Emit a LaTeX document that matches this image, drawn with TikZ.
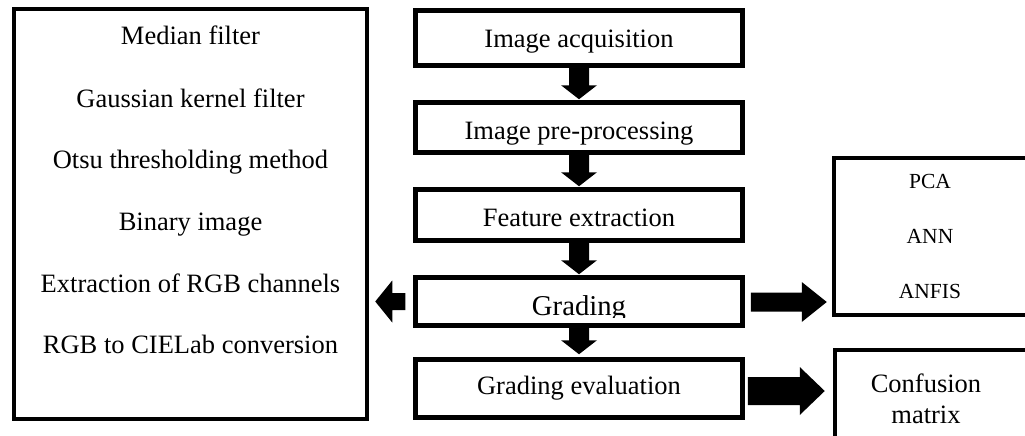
\documentclass[tikz,border=0pt]{standalone}
\usepackage{fontspec}
\setmainfont{Liberation Serif}
\usetikzlibrary{calc}
\newcommand\blkdown[3]{% from, to, tip gap
  \fill ($(#1.south)+(-10,0)$) -- ($(#2.north)+(-10,-14-#3)$) -- ($(#2.north)+(-18,-14-#3)$)
   -- ($(#2.north)+(0,-#3)$) -- ($(#2.north)+(18,-14-#3)$) -- ($(#2.north)+(10,-14-#3)$)
   -- ($(#1.south)+(10,0)$) -- cycle;}
\begin{document}
\begin{tikzpicture}[x=1pt,y=-1pt,
  box/.style={draw,line width=4.5pt,inner sep=0pt},
  txt/.style={inner sep=0pt,anchor=base,font=\fontsize{26.5}{30}\selectfont},
  smalltxt/.style={inner sep=0pt,anchor=base,font=\fontsize{21.5}{25}\selectfont},
  gradetxt/.style={inner sep=0pt,anchor=base,font=\fontsize{28.7}{32}\selectfont}]
\useasboundingbox (0,0) rectangle (1025,436);
\fill[white] (0,0) rectangle (1025,436);
\clip (0,0) rectangle (1025,436);
% left box
\node[box,minimum width=353pt,minimum height=410pt] (L) at (190.5,214) {};
\node[txt] (m1) at (190.5,45) {Median filter};
\node[txt] (m2) at (190.5,107) {Gaussian kernel filter};
\node[txt] (m3) at (190.5,168) {Otsu thresholding method};
\node[txt] (m4) at (190.5,230) {Binary image};
\node[txt] (m5) at (190.5,292) {Extraction of RGB channels};
\node[txt] (m6) at (190.5,353) {RGB to CIELab conversion};
% centre boxes
\node[box,minimum width=327pt,minimum height=55pt] (b1) at (579,38) {};
\node[box,minimum width=327pt,minimum height=50pt] (b2) at (579,127.5) {};
\node[box,minimum width=327pt,minimum height=51pt] (b3) at (579,215) {};
\node[box,minimum width=327pt,minimum height=48pt] (b4) at (579,301.5) {};
\node[box,minimum width=327pt,minimum height=58pt] (b5) at (579,388.5) {};
\node[txt] (t1) at (579,48) {Image acquisition};
\node[txt] (t2) at (579,139) {Image pre-processing};
\node[txt] (t3) at (579,226) {Feature extraction};
\begin{scope}
  \clip (420,282) rectangle (740,317.5);
  \node[gradetxt] (t4) at (579,315) {Grading};
\end{scope}
\node[txt] (t5) at (579,394) {Grading evaluation};
% right boxes
\node[box,minimum width=196pt,minimum height=157pt] (P) at (932,236.5) {};
\node[smalltxt] (p1) at (930,188) {PCA};
\node[smalltxt] (p2) at (930,243) {ANN};
\node[smalltxt] (p3) at (930,298) {ANFIS};
\node[box,minimum width=196pt,minimum height=95pt] (C) at (933,397.5) {};
\node[txt] (c1) at (926,392) {Confusion};
\node[txt] (c2) at (926,423) {matrix};
% down arrows
\blkdown{b1}{b2}{1}
\blkdown{b2}{b3}{1}
\blkdown{b3}{b4}{1}
\blkdown{b4}{b5}{3}
% left arrow
\coordinate (lt) at ($(L.east|-b4.west)+(6,0)$);
\fill ($(b4.west)+(-8,-8.5)$) -- ($(lt)+(17,-8.5)$) -- ($(lt)+(17,-21)$) -- (lt)
  -- ($(lt)+(17,21)$) -- ($(lt)+(17,8.5)$) -- ($(b4.west)+(-8,8.5)$) -- cycle;
% right arrows
\coordinate (r1) at ($(P.west|-b4.east)+(-5,0.5)$);
\fill ($(b4.east)+(6,-9)$) -- ($(r1)+(-25,-9.5)$) -- ($(r1)+(-25,-20)$) -- (r1)
  -- ($(r1)+(-25,20)$) -- ($(r1)+(-25,9.5)$) -- ($(b4.east)+(6,10)$) -- cycle;
\coordinate (r2) at ($(C.west|-b5.east)+(-8,2.5)$);
\fill ($(b5.east)+(3,-11.5)$) -- ($(r2)+(-25,-14)$) -- ($(r2)+(-25,-24)$) -- (r2)
  -- ($(r2)+(-25,24)$) -- ($(r2)+(-25,14)$) -- ($(b5.east)+(3,16.5)$) -- cycle;
\end{tikzpicture}
\end{document}
